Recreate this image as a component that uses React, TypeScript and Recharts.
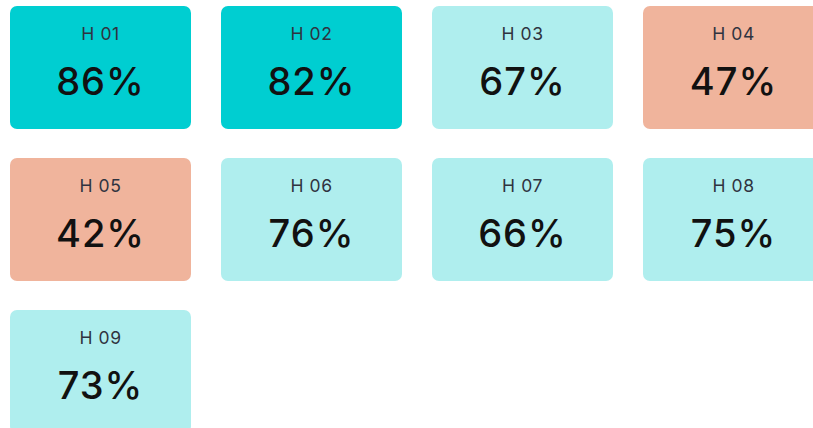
import React from 'react';
import { ScatterChart, Scatter, XAxis, YAxis } from 'recharts';

const holes = ['H 01', 'H 02', 'H 03', 'H 04', 'H 05', 'H 06', 'H 07', 'H 08', 'H 09'];
const scores = [86, 82, 67, 47, 42, 76, 66, 75, 73];

const COLS = 4;

const data = holes.map((name, i) => ({
  name,
  value: scores[i],
  col: i % COLS,
  row: Math.floor(i / COLS),
}));

function tileColor(v: number) {
  if (v >= 80) return '#00CED1';
  if (v >= 50) return '#AFEEEE';
  return '#F0B49C';
}

const TILE_W = 181;
const TILE_H = 123;

const Tile = (props: any) => {
  const { cx, cy, payload } = props;
  if (cx == null || cy == null) return null;
  return (
    <g>
      <rect
        x={cx - TILE_W / 2}
        y={cy - TILE_H / 2}
        width={TILE_W}
        height={TILE_H}
        rx={7}
        ry={7}
        fill={tileColor(payload.value)}
      />
      <text
        x={cx}
        y={cy - 34}
        textAnchor="middle"
        dominantBaseline="central"
        fontSize={17.5}
        fill="#2f3340"
        letterSpacing={0.6}
      >
        {payload.name}
      </text>
      <text
        x={cx}
        y={cy + 13}
        textAnchor="middle"
        dominantBaseline="central"
        fontSize={38}
        fontWeight={500}
        fill="#111"
        letterSpacing={1}
      >
        {payload.value}%
      </text>
    </g>
  );
};

export default function App() {
  return (
    <div style={{ position: 'absolute', left: 0, top: 0, fontFamily: 'Inter, sans-serif' }}>
      <ScatterChart
        width={813}
        height={428}
        margin={{ top: 67.5, right: 79.5, bottom: 56.5, left: 100.5 }}
      >
        <XAxis type="number" dataKey="col" domain={[0, 3]} hide />
        <YAxis type="number" dataKey="row" domain={[0, 2]} reversed hide />
        <Scatter data={data} shape={Tile} isAnimationActive={false} />
      </ScatterChart>
    </div>
  );
}
